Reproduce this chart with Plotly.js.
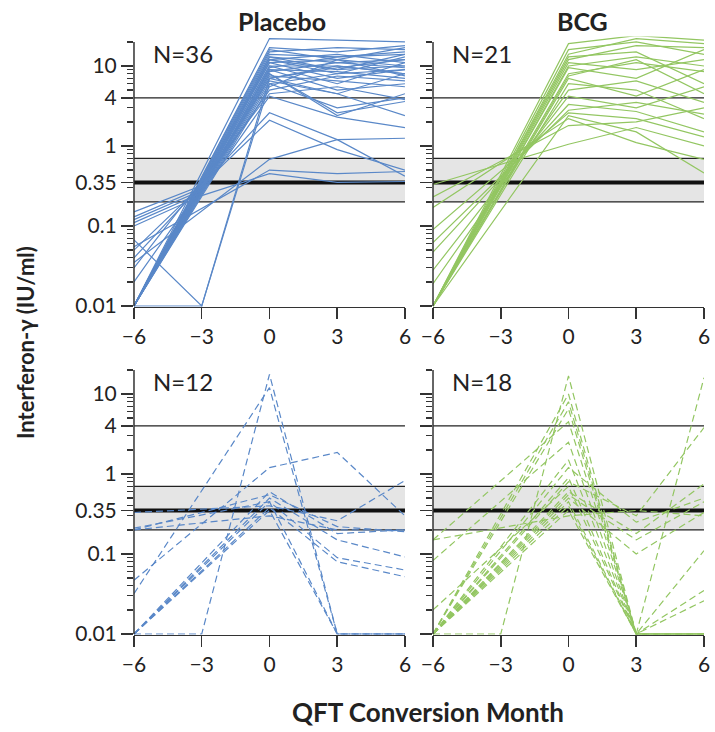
<!DOCTYPE html>
<html><head><meta charset="utf-8">
<script src="https://cdn.plot.ly/plotly-3.0.1.min.js"></script>
<style>html,body{margin:0;padding:0;background:#fff}#chart{width:715px;height:732px}</style>
</head><body><div id="chart"></div>
<script>
// ---- data ----
const months = [-6, -3, 0, 3, 6];
const panelTitles = ["Placebo", "BCG"];
const panelCounts = ["N=36", "N=21", "N=12", "N=18"];
const yTickVals = [0.01, 0.1, 0.35, 1, 4, 10];
const yTickText = ["0.01", "0.1", "0.35", "1", "4", "10"];
const yMinorVals = [0.02,0.03,0.04,0.05,0.06,0.07,0.08,0.09,0.2,0.3,0.4,0.5,0.6,0.7,0.8,0.9,2,3,5,6,7,8,9,20];
const xTickVals = [-6, -3, 0, 3, 6];
const xTickText = ["\u22126", "\u22123", "0", "3", "6"];
const bandLow = 0.2, bandHigh = 0.7, cutoff = 0.35, upperRef = 4, axisTop = 20;

// values at months -6, -3, 0, 3, 6 (null = no test)
const placeboSustained = [
  [0.01, null, 22, 21, 20],
  [0.01, null, 17, 15, 18],
  [0.01, null, 16, 12, 17],
  [0.01, null, 15, 17, 16],
  [0.01, null, 14, 13, 15],
  [0.01, null, 13, 9, 14],
  [0.01, null, 13, 11, 12],
  [0.01, null, 12, 14, 11],
  [0.01, null, 12, 8, 13],
  [0.01, null, 11, 12, 10],
  [0.01, null, 11, 7, 9],
  [0.01, null, 10, 10, 8],
  [0.01, null, 10, 6, 11],
  [0.01, null, 9, 8.5, 7],
  [0.01, null, 9, 5, 6],
  [0.01, null, 8.5, 11, 9.5],
  [0.01, null, 8, 2.4, 4.5],
  [0.01, null, 8, 2.6, 3.6],
  [0.01, null, 7.5, 6.5, 5.5],
  [0.01, null, 7, 9.5, 12],
  [0.01, null, 6.5, 4.5, 8],
  [0.01, null, 6, 3, 4],
  [0.01, null, 5.5, 12, 7.5],
  [0.02, null, 5, 7.5, 6.5],
  [0.03, null, 4.5, 5.5, 3.8],
  [0.13, 0.3, 12, 9, 10],
  [0.12, 0.28, 9.5, 13, 14],
  [0.15, 0.32, 7, 4.5, 2.4],
  [0.11, 0.26, 4.2, 2.3, 1.7],
  [0.1, 0.24, 0.45, 0.35, 0.36],
  [0.067, 0.01, 7, 10, 8],
  [0.01, 0.01, 6, 8, 9],
  [0.04, null, 2.6, 1.2, 0.42],
  [0.05, null, 2.1, 0.9, 0.5],
  [0.035, null, 0.68, 1.2, 1.25],
  [0.055, null, 0.5, 0.45, 0.48]
];
const bcgSustained = [
  [0.01, null, 19, 24, 21],
  [0.01, null, 16, 20, 14],
  [0.01, null, 14, 22, 19],
  [0.01, null, 12, 18, 17],
  [0.01, null, 11, 9, 12],
  [0.01, null, 10, 13, 10],
  [0.01, null, 9.5, 7, 16],
  [0.01, null, 8, 11, 8.5],
  [0.01, null, 7, 4.2, 9],
  [0.01, null, 6, 5, 2.2],
  [0.019, null, 5, 6.5, 3.5],
  [0.028, null, 4.2, 3, 5.5],
  [0.047, null, 3.3, 2.7, 1.5],
  [0.062, null, 2.8, 3.5, 2.5],
  [0.09, null, 2.6, 2.2, 1.3],
  [0.17, null, 2.2, 1.1, 0.68],
  [0.23, null, 1.8, 2.0, 3.0],
  [0.33, null, 1.05, 1.7, 1.0],
  [0.01, null, 2.4, 1.5, 0.46],
  [0.01, null, 13, 15, 6],
  [0.01, null, 7.5, 12, 4.5]
];
const placeboTransient = [
  [0.01, 0.01, 17.6, 0.01, 0.01],
  [0.032, null, 12, 0.01, 0.01],
  [0.047, null, 1.2, 1.86, 0.3],
  [0.2, null, 0.55, 0.22, 0.19],
  [0.21, null, 0.45, 0.09, 0.063],
  [0.33, null, 0.4, 0.26, 0.83],
  [0.01, null, 0.45, 0.01, 0.01],
  [0.01, null, 0.5, 0.15, 0.092],
  [0.01, null, 0.38, 0.08, 0.052],
  [0.01, null, 0.35, 0.01, 0.01],
  [0.01, null, 0.6, 0.18, 0.2],
  [0.2, null, 0.3, 0.2, 0.2]
];
const bcgTransient = [
  [0.01, 0.01, 16.8, 0.01, 0.01],
  [0.01, null, 10, 0.01, 0.01],
  [0.01, null, 8, 0.01, 0.01],
  [0.01, null, 6.5, 0.01, 0.035],
  [0.15, null, 4.5, 0.01, 0.026],
  [0.083, null, 2.5, 0.01, 0.01],
  [0.01, null, 1.5, 0.01, 16],
  [0.01, null, 0.8, 0.3, 3.8],
  [0.01, null, 0.6, 0.18, 0.75],
  [0.01, null, 0.5, 0.1, 0.33],
  [0.01, null, 0.45, 0.01, 0.11],
  [0.01, null, 0.4, 0.01, 0.01],
  [0.01, null, 0.55, 0.15, 0.45],
  [0.02, null, 0.7, 0.01, 0.01],
  [0.01, null, 0.35, 0.01, 0.01],
  [0.01, null, 0.9, 0.01, 0.01],
  [0.15, null, 0.3, 0.35, 0.3],
  [0.01, null, 1.2, 0.25, 0.5]
];

// ---- styling / layout ----
const BLUE = "#5a88c8", GREEN = "#93c662";
const FONT = "Lato, 'Open Sans', sans-serif";
const xDom = [[0.1874, 0.5664], [0.6056, 0.9846]];
const yDom = [[0.5809, 0.9503], [0.1328, 0.5022]];
const panels = [
  {rows: placeboSustained, color: BLUE, dash: "solid", xi: 0, yi: 0},
  {rows: bcgSustained, color: GREEN, dash: "solid", xi: 1, yi: 0},
  {rows: placeboTransient, color: BLUE, dash: "7px,4px", xi: 0, yi: 1},
  {rows: bcgTransient, color: GREEN, dash: "7px,4px", xi: 1, yi: 1}
];

const traces = [];
const layout = {
  width: 715, height: 732, margin: {l: 0, r: 0, t: 0, b: 0},
  paper_bgcolor: "#fff", plot_bgcolor: "rgba(0,0,0,0)",
  showlegend: false, font: {family: FONT, color: "#222"},
  shapes: [], annotations: []
};

panels.forEach((p, i) => {
  const n = i + 1;
  const xa = "x" + (n === 1 ? "" : n), ya = "y" + (n === 1 ? "" : n);
  const xk = "xaxis" + (n === 1 ? "" : n), yk = "yaxis" + (n === 1 ? "" : n);
  layout[xk] = {
    domain: xDom[p.xi], anchor: ya, range: [-6, 6], showgrid: false, zeroline: false,
    showline: true, linecolor: "#333", linewidth: 1.5,
    tickmode: "array", tickvals: xTickVals, ticktext: xTickText,
    ticks: "outside", ticklen: 11, tickwidth: 1.5, tickcolor: "#333",
    tickfont: {size: 21, family: FONT, color: "#222"}
  };
  layout[yk] = {
    domain: yDom[p.yi], anchor: xa, type: "log", range: [-2.01, 1.37],
    showgrid: false, zeroline: false, showline: false,
    tickmode: "array", tickvals: yTickVals, ticktext: yTickText,
    showticklabels: p.xi === 0,
    ticks: "outside", ticklen: 12, tickwidth: 1.5, tickcolor: "#333",
    tickfont: {size: 21, family: FONT, color: "#222"},
    minor: {tickmode: "array", tickvals: yMinorVals, ticks: "outside", ticklen: 6, tickwidth: 1.3, tickcolor: "#333", showgrid: false}
  };
  const dx = xa + " domain";
  layout.shapes.push(
    {type: "rect", xref: dx, yref: ya, x0: 0, x1: 1, y0: bandLow, y1: bandHigh, fillcolor: "#e5e5e5", line: {width: 0}, layer: "below"},
    {type: "line", xref: dx, yref: ya, x0: 0, x1: 1, y0: upperRef, y1: upperRef, line: {color: "#222", width: 1.2}, layer: "below"},
    {type: "line", xref: dx, yref: ya, x0: 0, x1: 1, y0: bandHigh, y1: bandHigh, line: {color: "#222", width: 1.2}, layer: "below"},
    {type: "line", xref: dx, yref: ya, x0: 0, x1: 1, y0: bandLow, y1: bandLow, line: {color: "#222", width: 1.2}, layer: "below"},
    {type: "line", xref: dx, yref: ya, x0: 0, x1: 1, y0: cutoff, y1: cutoff, line: {color: "#111", width: 4}, layer: "below"},
    {type: "line", xref: "paper", yref: ya, x0: xDom[p.xi][0], x1: xDom[p.xi][0], y0: 0.01, y1: axisTop, line: {color: "#333", width: 1.5}}
  );
  p.rows.forEach(row => {
    traces.push({
      x: months, y: row, xaxis: xa, yaxis: ya, type: "scatter", mode: "lines",
      connectgaps: true, hoverinfo: "skip",
      line: {color: p.color, width: 1.2, dash: p.dash}
    });
  });
  layout.annotations.push({
    xref: "paper", yref: "paper", x: xDom[p.xi][0] + 17 / 715, y: yDom[p.yi][1] - 17 / 732,
    xanchor: "left", yanchor: "middle", showarrow: false, text: panelCounts[i],
    font: {size: 24, family: FONT, color: "#222"}
  });
});

layout.annotations.push(
  {xref: "paper", yref: "paper", x: 282 / 715, y: 1 - 21 / 732, xanchor: "center", yanchor: "middle", showarrow: false,
   text: "<b>" + panelTitles[0] + "</b>", font: {size: 25, family: FONT, color: "#222"}},
  {xref: "paper", yref: "paper", x: 582 / 715, y: 1 - 21 / 732, xanchor: "center", yanchor: "middle", showarrow: false,
   text: "<b>" + panelTitles[1] + "</b>", font: {size: 25, family: FONT, color: "#222"}},
  {xref: "paper", yref: "paper", x: 25 / 715, y: 1 - 343 / 732, xanchor: "center", yanchor: "middle", showarrow: false,
   textangle: -90, text: "<b>Interferon-\u03b3 (IU/ml)</b>", font: {size: 22, family: FONT, color: "#222"}},
  {xref: "paper", yref: "paper", x: 428 / 715, y: 1 - 712 / 732, xanchor: "center", yanchor: "middle", showarrow: false,
   text: "<b>QFT Conversion Month</b>", font: {size: 26, family: FONT, color: "#222"}}
);

Plotly.newPlot("chart", traces, layout, {staticPlot: true, displayModeBar: false});
</script>
</body></html>
